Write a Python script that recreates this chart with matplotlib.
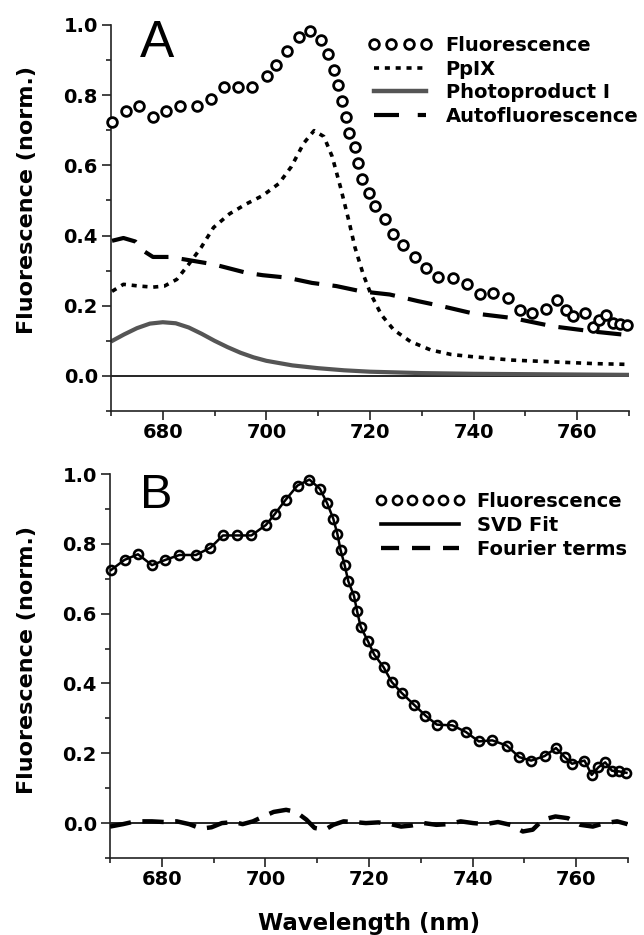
import matplotlib
matplotlib.use('Agg')
import matplotlib.pyplot as plt
from matplotlib.lines import Line2D
from matplotlib.ticker import MultipleLocator

plt.rcParams['font.family'] = ['DejaVu Sans']
plt.rcParams['font.weight'] = 'bold'
plt.rcParams['axes.labelweight'] = 'bold'

# measured fluorescence spectrum (circles, same in both panels)
fl_x = [670.2, 672.8, 675.4, 678.1, 680.7, 683.4, 686.6, 689.4, 691.8, 694.5,
        697.3, 700.1, 701.8, 703.9, 706.2, 708.5, 710.5, 711.9, 713.1, 713.9,
        714.5, 715.3, 716.0, 717.1, 717.7, 718.4, 719.8, 721.0, 722.8, 724.4,
        726.3, 728.7, 730.9, 733.1, 736.1, 738.7, 741.2, 743.8, 746.6, 749.0,
        751.3, 753.9, 756.1, 757.8, 759.2, 761.6, 763.0, 764.3, 765.6, 766.9,
        768.3, 769.7]
fl_y = [0.725, 0.754, 0.770, 0.739, 0.754, 0.768, 0.768, 0.789, 0.824, 0.824,
        0.824, 0.854, 0.885, 0.926, 0.967, 0.984, 0.958, 0.917, 0.872, 0.828,
        0.783, 0.739, 0.693, 0.651, 0.607, 0.562, 0.521, 0.483, 0.447, 0.404,
        0.373, 0.339, 0.308, 0.282, 0.280, 0.261, 0.234, 0.237, 0.222, 0.189,
        0.179, 0.192, 0.215, 0.189, 0.170, 0.179, 0.138, 0.160, 0.174, 0.150,
        0.148, 0.144]

# PpIX component
ppix_x = [670.2, 672.4, 675.5, 678.1, 680.3, 682.7, 685.0, 687.4, 689.8, 692.9,
          696.1, 699.3, 702.4, 704.8, 707.2, 709.2, 711.1, 712.7, 714.3, 715.9,
          717.1, 718.7, 720.2, 722.2, 724.6, 727.8, 731.7, 735.7, 739.6, 747.5,
          755.4, 763.4, 769.3]
ppix_y = [0.241, 0.261, 0.256, 0.253, 0.256, 0.275, 0.318, 0.366, 0.423, 0.462,
          0.490, 0.514, 0.548, 0.596, 0.663, 0.699, 0.682, 0.625, 0.538, 0.443,
          0.366, 0.289, 0.232, 0.174, 0.131, 0.098, 0.074, 0.061, 0.055, 0.045,
          0.040, 0.035, 0.033]

# Photoproduct I component
pp_x = [670, 672.5, 675, 677.5, 680, 682.5, 685, 687.5, 690, 692.5, 695, 697.5,
        700, 705, 710, 715, 720, 730, 740, 750, 760, 770]
pp_y = [0.098, 0.118, 0.136, 0.149, 0.153, 0.150, 0.138, 0.120, 0.100, 0.082,
        0.066, 0.053, 0.043, 0.030, 0.022, 0.016, 0.012, 0.008, 0.006, 0.005,
        0.004, 0.003]

# autofluorescence component
af_x = [670.2, 672.4, 674.7, 676.3, 678.1, 681.1, 684.2, 689.8, 696.1, 699.3,
        704.0, 708.8, 713.5, 718.3, 723.8, 729.3, 734.1, 739.6, 747.5, 755.4,
        763.4, 769.3]
af_y = [0.385, 0.393, 0.383, 0.356, 0.339, 0.339, 0.332, 0.318, 0.294, 0.287,
        0.280, 0.265, 0.256, 0.241, 0.232, 0.213, 0.198, 0.179, 0.165, 0.141,
        0.126, 0.117]

# Fourier terms (panel B)
ft_x = [670.0, 672.5, 674.9, 678.1, 680.5, 682.9, 685.3, 687.6, 689.6, 691.6,
        694.0, 695.6, 697.6, 699.6, 701.6, 704.0, 705.9, 707.9, 709.5, 711.5,
        713.1, 715.1, 717.1, 719.4, 721.8, 724.2, 726.2, 728.2, 730.6, 733.0,
        735.3, 737.7, 740.1, 742.5, 744.9, 747.3, 749.7, 751.6, 753.6, 756.0,
        758.4, 760.8, 763.2, 765.5, 767.9, 769.9]
ft_y = [-0.010, -0.003, 0.005, 0.005, 0.003, 0.005, -0.003, -0.016, -0.012, 0.0,
        0.003, -0.003, 0.005, 0.019, 0.032, 0.038, 0.032, 0.010, -0.014, -0.019,
        -0.005, 0.005, 0.003, 0.0, 0.002, -0.003, -0.010, -0.007, 0.0, -0.005,
        -0.003, 0.005, 0.0, -0.003, 0.003, -0.005, -0.024, -0.019, 0.010, 0.019,
        0.014, -0.005, -0.010, 0.0, 0.005, -0.003]

W, H = 644, 935
fig = plt.figure(figsize=(W / 100, H / 100), dpi=100)


def make_axes(left, top, right, bottom):
    ax = fig.add_axes([left / W, 1 - bottom / H, (right - left) / W, (bottom - top) / H])
    ax.set_xlim(670, 770)
    ax.set_ylim(-0.1, 1.0)
    for s in ['top', 'right']:
        ax.spines[s].set_visible(False)
    for s in ['left', 'bottom']:
        ax.spines[s].set_linewidth(1.2)
        ax.spines[s].set_color('#222222')
    ax.xaxis.set_minor_locator(MultipleLocator(10))
    ax.set_xticks([680, 700, 720, 740, 760])
    ax.yaxis.set_minor_locator(MultipleLocator(0.1))
    ax.set_yticks([0.0, 0.2, 0.4, 0.6, 0.8, 1.0])
    ax.tick_params(which='major', direction='out', length=6.5, width=1.2,
                   labelsize=14, color='#222222')
    ax.tick_params(which='minor', direction='out', length=3.5, width=1.2, color='#222222')
    ax.tick_params(axis='x', pad=2)
    ax.tick_params(axis='y', pad=3)
    ax.yaxis.set_major_formatter(matplotlib.ticker.FormatStrFormatter('%.1f'))
    ax.axhline(0, color='black', lw=1.2, zorder=1)
    return ax


# panel A
axA = make_axes(111, 25, 629, 411)
axA.plot(pp_x, pp_y, color='#555555', lw=3.0, solid_capstyle='butt', zorder=2)
axA.plot(af_x, af_y, color='black', lw=3.0, dashes=(6, 3.2), zorder=3)
axA.plot(ppix_x, ppix_y, color='black', lw=2.6, dashes=(1.4, 1.6), zorder=3)
axA.plot(fl_x, fl_y, 'o', ms=7, mfc='white', mec='black', mew=2.0, zorder=4,
         clip_on=False)
axA.text(0.089, 0.953, 'A', transform=axA.transAxes, fontsize=37,
         fontweight='normal', family='Liberation Sans', ha='center', va='center')
handlesA = [
    Line2D([], [], ls='none', marker='o', ms=7, mfc='white', mec='black', mew=2.0),
    Line2D([], [], color='black', lw=2.6, dashes=(1.4, 1.6)),
    Line2D([], [], color='#555555', lw=3.2),
    Line2D([], [], color='black', lw=3.0, dashes=(6, 4.5)),
]
axA.legend(handlesA, ['Fluorescence', 'PpIX', 'Photoproduct I', 'Autofluorescence'],
           loc='upper left', bbox_to_anchor=(0.496, 0.971), frameon=False,
           fontsize=14, numpoints=4, handlelength=3.3, handletextpad=0.7,
           labelspacing=0.23, borderpad=0, borderaxespad=0)
fig.text(27 / W, 1 - 200 / H, 'Fluorescence (norm.)', rotation=90,
         fontsize=16, ha='center', va='center')

# panel B
axB = make_axes(110, 474, 628, 858)
axB.plot(ft_x, ft_y, color='black', lw=3.2, dashes=(4.8, 2.6), zorder=3)
axB.plot(fl_x, fl_y, color='black', lw=1.8, zorder=3)
axB.plot(fl_x, fl_y, 'o', ms=6.5, mfc='none', mec='black', mew=1.9, zorder=4,
         clip_on=False)
axB.text(0.089, 0.943, 'B', transform=axB.transAxes, fontsize=35,
         fontweight='normal', family='Liberation Sans', ha='center', va='center')
handlesB = [
    Line2D([], [], ls='none', marker='o', ms=6.5, mfc='white', mec='black', mew=1.9),
    Line2D([], [], color='black', lw=2.6),
    Line2D([], [], color='black', lw=3.1, dashes=(4.2, 3.0)),
]
axB.legend(handlesB, ['Fluorescence', 'SVD Fit', 'Fourier terms'],
           loc='upper left', bbox_to_anchor=(0.512, 0.953), frameon=False,
           fontsize=14, numpoints=6, handlelength=4.6, handletextpad=0.62,
           labelspacing=0.25, borderpad=0, borderaxespad=0)
fig.text(27 / W, 1 - 660 / H, 'Fluorescence (norm.)', rotation=90,
         fontsize=16, ha='center', va='center')
axB.set_xlabel('Wavelength (nm)', fontsize=16.5, labelpad=17)

fig.savefig('out.png', dpi=100)
